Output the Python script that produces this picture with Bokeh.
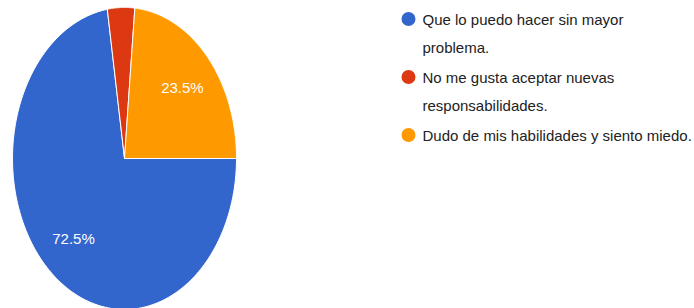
import numpy as np
from bokeh.plotting import figure
from bokeh.models import ColumnDataSource, Range1d
from bokeh.core.properties import value
from bokeh.embed import file_html
from bokeh.resources import INLINE

# ---- data ----
categories = [
    "Que lo puedo hacer sin mayor\nproblema.",
    "No me gusta aceptar nuevas\nresponsabilidades.",
    "Dudo de mis habilidades y siento miedo.",
]
counts = [37, 2, 12]
colors = ["#3366CC", "#DC3912", "#FF9900"]

# ---- layout (figure pixel space) ----
W, H = 694, 308
cx, cy = 124, 158          # pie centre
rx, ry = 112, 151          # pie radii (stretched image)
start_deg = 90             # first slice starts at 3 o'clock, clockwise
label_frac = 0.70

p = figure(width=W, height=H, output_backend="svg", toolbar_location=None,
           x_range=Range1d(0, W), y_range=Range1d(H, 0), min_border=0)
p.axis.visible = False
p.grid.visible = False
p.outline_line_color = None
p.background_fill_color = "white"
p.border_fill_color = "white"

vals = np.array(counts, dtype=float)
fracs = vals / vals.sum()
edges = start_deg + np.concatenate([[0], np.cumsum(fracs)]) * 360.0

xs, ys = [], []
lab_x, lab_y, lab_t = [], [], []
for i in range(len(vals)):
    a0, a1 = np.radians(edges[i]), np.radians(edges[i + 1])
    t = np.linspace(a0, a1, 200)
    px = np.concatenate([[cx], cx + rx * np.sin(t), [cx]])
    py = np.concatenate([[cy], cy - ry * np.cos(t), [cy]])
    xs.append(px.tolist())
    ys.append(py.tolist())
    if fracs[i] >= 0.05:
        am = (a0 + a1) / 2
        lab_x.append(cx + label_frac * rx * np.sin(am))
        lab_y.append(cy - label_frac * ry * np.cos(am))
        lab_t.append(f"{fracs[i]*100:.1f}%")

p.patches(xs="xs", ys="ys", fill_color="color", line_color="white", line_width=1,
          source=ColumnDataSource(dict(xs=xs, ys=ys, color=colors)))
p.text(x=lab_x, y=lab_y, text=lab_t, text_color="white",
       text_font=value("Liberation Sans"), text_font_size="15px",
       text_align="center", text_baseline="middle")

# ---- legend (manual) ----
leg_x, leg_y0 = 408, 18.5
line_gap, item_gap = 28.5, 29.5
mx, my, tx, ty, tt = [], [], [], [], []
y = leg_y0
for cat in categories:
    mx.append(leg_x); my.append(y)
    lines = cat.split("\n")
    for k, line in enumerate(lines):
        tx.append(leg_x + 14); ty.append(y); tt.append(line)
        if k < len(lines) - 1:
            y += line_gap
    y += item_gap
p.scatter(x=mx, y=my, size=14, marker="circle", fill_color=colors, line_color=None)
p.text(x=tx, y=ty, text=tt, text_color="#222222",
       text_font=value("Liberation Sans"), text_font_size="15px",
       text_align="left", text_baseline="middle")

open("out.html", "w").write(file_html(p, INLINE))
